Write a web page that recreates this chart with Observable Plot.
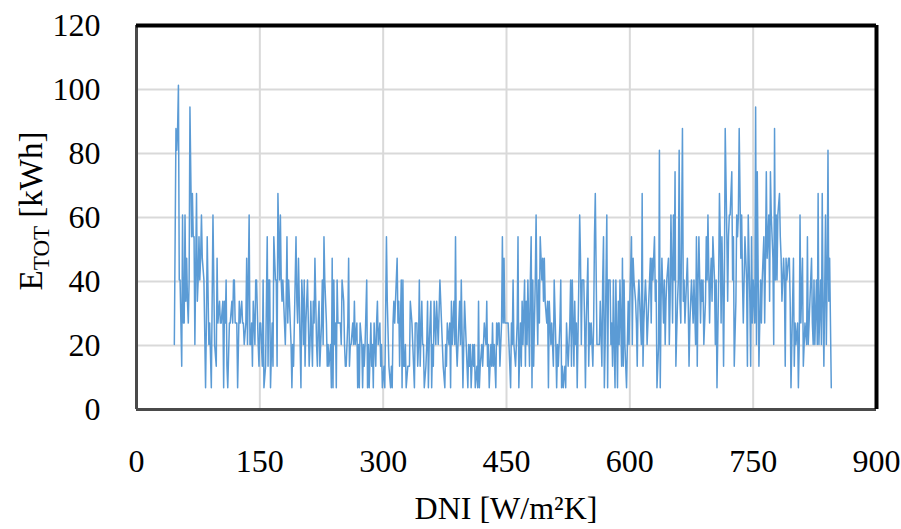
<!DOCTYPE html>
<html><head><meta charset="utf-8">
<script src="https://cdn.jsdelivr.net/npm/d3@7"></script>
<script src="https://cdn.jsdelivr.net/npm/@observablehq/plot@0.6"></script>
<style>
html,body{margin:0;padding:0;background:#fff;}
#chart{width:901px;height:529px;overflow:hidden;}
</style></head><body><div id="chart"></div>
<script>
// DNI values (x)
const dni = [
46,48,49,50,51,52,53,55,56,57,
58,59,60,61,62,63,64,65,67,68,
69,70,71,73,74,75,76,77,78,79,
80,82,84,85,86,88,89,91,93,95,
97,98,99,101,102,103,105,106,107,108,
109,110,111,113,114,116,117,118,119,120,
122,123,125,126,128,129,130,131,133,134,
135,137,138,139,140,141,142,144,145,146,
148,149,150,151,152,153,154,155,157,159,
160,161,162,163,165,166,167,169,170,171,
172,174,175,
176,177,178,180,181,182,183,184,185,187,
188,189,190,191,193,194,195,196,197,199,
200,201,202,203,204,205,206,208,209,210,
211,212,214,215,216,217,219,220,221,222,
223,225,226,227,228,229,231,232,233,234,
236,237,238,239,240,241,242,243,244,245,
247,248,249,250,252,253,254,255,257,258,
259,260,261,263,264,265,266,268,269,270,
271,272,274,275,276,277,278,280,281,282,
283,285,286,287,288,289,291,292,293,294,
296,297,298,299,301,302,304,305,
307,309,310,311,312,313,314,315,317,318,
319,320,322,323,324,325,326,327,328,330,
331,332,333,335,336,337,338,339,341,342,
343,344,345,347,348,349,350,352,353,354,
355,356,358,359,360,361,362,364,365,366,
367,369,370,371,372,373,375,376,377,378,
380,381,382,383,384,386,387,388,389,390,
392,393,394,395,397,398,399,400,401,403,
404,405,406,407,409,410,411,412,414,415,
416,417,418,420,421,422,423,425,426,427,
428,429,431,432,433,434,435,437,438,439,
440,
441,442,444,445,446,447,448,450,451,452,
453,455,456,457,458,459,461,462,463,464,
465,467,468,469,470,472,473,474,475,476,
478,479,480,481,482,483,485,486,487,488,
489,490,491,493,494,495,496,497,499,500,
501,502,504,505,506,507,508,510,511,512,
513,515,516,517,518,519,521,522,523,524,
525,527,528,529,530,532,533,534,535,536,
538,539,540,541,542,544,545,546,547,549,
550,551,552,553,555,556,557,558,560,561,
562,563,564,566,567,568,569,570,572,573,
574,576,
577,578,579,580,581,582,583,585,586,587,
588,590,591,592,593,594,596,597,598,599,
600,602,603,604,605,607,608,609,610,611,
613,614,615,616,617,619,620,621,622,624,
625,626,627,628,630,631,632,633,635,636,
637,638,639,641,642,643,644,645,647,648,
649,650,652,653,654,655,656,658,659,660,
661,662,664,665,666,667,669,670,671,672,
673,675,676,677,678,680,681,682,683,684,
686,687,688,689,690,692,693,694,695,697,
698,699,700,701,703,704,705,706,708,709,
710,
711,712,713,714,715,716,718,719,720,721,
722,724,725,726,727,729,730,731,732,733,
735,736,737,738,740,741,742,743,744,746,
747,748,749,750,752,753,754,755,757,758,
759,760,761,763,764,765,766,767,769,770,
771,772,774,775,776,777,778,779,780,782,
783,784,785,787,788,789,790,791,793,794,
795,796,797,799,800,801,802,804,805,806,
807,808,810,811,812,813,815,816,817,818,
819,821,822,823,824,825,827,828,829,830,
832,833,834,835,836,838,839,840,841,842,
843,845
];
// E_TOT values (y), kWh
const etot = [
20.3,87.8,81,87.8,101.3,40.5,40.5,13.5,60.8,27,
27,60.8,33.8,47.3,33.8,27,40.5,94.5,54,67.5,
54,54,20.3,67.5,33.8,40.5,54,40.5,47.3,60.8,
47.3,40.5,6.8,27,54,20.3,27,6.8,60.8,20.3,
13.5,47.3,27,33.8,27,27,33.8,6.8,33.8,27,
40.5,13.5,6.8,27,27,33.8,27,40.5,40.5,27,
27,6.8,33.8,27,33.8,27,27,20.3,27,47.3,
20.3,60.8,20.3,20.3,27,13.5,33.8,20.3,40.5,40.5,
20.3,13.5,27,27,20.3,13.5,40.5,6.8,13.5,54,
13.5,40.5,40.5,6.8,27,13.5,54,40.5,40.5,13.5,
67.5,40.5,60.8,
40.5,33.8,40.5,27,20.3,33.8,54,27,40.5,27,
20.3,6.8,20.3,13.5,40.5,54,33.8,27,47.3,20.3,
6.8,40.5,33.8,20.3,40.5,13.5,27,40.5,27,13.5,
20.3,33.8,13.5,33.8,27,47.3,20.3,13.5,27,33.8,
13.5,27,40.5,20.3,54,40.5,27,13.5,20.3,13.5,
20.3,6.8,47.3,6.8,40.5,20.3,27,6.8,40.5,27,
27,27,20.3,40.5,33.8,20.3,13.5,13.5,27,47.3,
13.5,20.3,20.3,27,20.3,33.8,20.3,27,6.8,20.3,
6.8,27,20.3,6.8,20.3,13.5,20.3,40.5,6.8,20.3,
6.8,27,13.5,20.3,6.8,27,13.5,27,33.8,20.3,
27,13.5,20.3,6.8,13.5,6.8,54,33.8,
13.5,6.8,13.5,6.8,27,33.8,27,33.8,47.3,27,
33.8,13.5,40.5,6.8,40.5,13.5,13.5,20.3,6.8,13.5,
13.5,13.5,33.8,27,20.3,13.5,6.8,27,27,13.5,
20.3,40.5,13.5,33.8,20.3,20.3,6.8,13.5,20.3,33.8,
6.8,20.3,33.8,6.8,20.3,13.5,33.8,20.3,33.8,27,
20.3,40.5,33.8,27,20.3,13.5,6.8,20.3,13.5,27,
20.3,27,6.8,33.8,20.3,33.8,20.3,54,20.3,13.5,
27,33.8,20.3,40.5,6.8,20.3,33.8,27,20.3,6.8,
20.3,13.5,20.3,6.8,20.3,13.5,20.3,6.8,13.5,6.8,
33.8,6.8,13.5,20.3,13.5,20.3,27,20.3,33.8,13.5,
20.3,6.8,20.3,13.5,27,13.5,20.3,6.8,27,20.3,
27,
27,13.5,27,54,27,47.3,27,27,27,27,
20.3,6.8,27,20.3,40.5,20.3,13.5,20.3,27,54,
6.8,27,13.5,33.8,20.3,40.5,13.5,33.8,20.3,40.5,
13.5,40.5,54,6.8,40.5,13.5,40.5,60.8,33.8,20.3,
40.5,27,54,40.5,47.3,33.8,47.3,33.8,27,33.8,
6.8,33.8,20.3,27,20.3,13.5,40.5,20.3,6.8,20.3,
13.5,27,40.5,6.8,13.5,6.8,13.5,6.8,27,20.3,
13.5,27,40.5,13.5,40.5,13.5,33.8,20.3,27,6.8,
40.5,60.8,47.3,20.3,40.5,40.5,27,6.8,27,47.3,
13.5,27,20.3,27,13.5,27,54,67.5,20.3,20.3,
20.3,20.3,33.8,13.5,40.5,54,6.8,20.3,60.8,6.8,
40.5,40.5,
20.3,27,13.5,40.5,20.3,6.8,40.5,6.8,33.8,20.3,
40.5,13.5,47.3,13.5,40.5,20.3,6.8,20.3,33.8,20.3,
33.8,54,20.3,47.3,40.5,33.8,27,13.5,33.8,40.5,
27,20.3,67.5,13.5,27,40.5,33.8,20.3,27,40.5,
47.3,27,47.3,40.5,54,33.8,40.5,6.8,20.3,81,
6.8,33.8,47.3,27,40.5,20.3,33.8,40.5,47.3,20.3,
33.8,60.8,27,60.8,40.5,74.3,13.5,33.8,40.5,81,
33.8,27,87.8,33.8,40.5,27,40.5,47.3,33.8,13.5,
27,40.5,33.8,27,40.5,20.3,54,13.5,40.5,54,
27,40.5,33.8,40.5,20.3,33.8,54,40.5,60.8,27,
40.5,47.3,33.8,54,40.5,20.3,40.5,6.8,40.5,67.5,
54,
27,54,40.5,13.5,40.5,87.8,54,33.8,54,60.8,
60.8,74.3,40.5,54,13.5,33.8,60.8,54,60.8,87.8,
47.3,60.8,40.5,27,54,47.3,40.5,13.5,60.8,33.8,
13.5,54,27,40.5,27,94.5,20.3,74.3,13.5,27,
40.5,27,40.5,54,27,47.3,74.3,47.3,60.8,33.8,
74.3,60.8,47.3,20.3,87.8,40.5,60.8,40.5,60.8,67.5,
54,47.3,33.8,47.3,40.5,13.5,47.3,40.5,47.3,47.3,
33.8,6.8,20.3,47.3,13.5,27,20.3,27,6.8,20.3,
60.8,27,47.3,13.5,20.3,27,20.3,54,20.3,27,
33.8,47.3,27,20.3,40.5,20.3,40.5,20.3,67.5,20.3,
40.5,20.3,67.5,33.8,13.5,60.8,20.3,40.5,81,33.8,
47.3,6.8
];
const xTicks = [0, 150, 300, 450, 600, 750, 900];
const yTicks = [0, 20, 40, 60, 80, 100, 120];
const xGrid = [150, 300, 450, 600, 750];
const yGrid = [20, 40, 60, 80, 100];
const xTitle = "DNI [W/m²K]";
const yTitleMain = "E", yTitleSub = "TOT", yTitleUnit = " [kWh]";

const n = Math.min(dni.length, etot.length);
const data = d3.range(n).map(i => ({dni: dni[i], e: etot[i]}));

const W = 901, H = 529, mL = 136, mR = 25, mT = 25, mB = 120;
const FONT = "'Liberation Serif', 'DejaVu Serif', serif";

const svg = Plot.plot({
  width: W, height: H,
  marginLeft: mL, marginRight: mR, marginTop: mT, marginBottom: mB,
  style: {fontFamily: FONT, fontSize: "32px", color: "#000", background: "#fff", overflow: "visible"},
  x: {domain: [0, 900], ticks: xTicks, tickSize: 0, tickPadding: 40, label: null, tickFormat: d => String(d)},
  y: {domain: [0, 120], ticks: yTicks, tickSize: 0, tickPadding: 36, label: null, tickFormat: d => String(d)},
  marks: [
    Plot.ruleX(xGrid, {stroke: "#d9d9d9", strokeWidth: 2}),
    Plot.ruleY(yGrid, {stroke: "#d9d9d9", strokeWidth: 2}),
    Plot.line(data, {x: "dni", y: "e", stroke: "#5b9bd5", strokeWidth: 1.5}),
    Plot.ruleY([0], {stroke: "#4a4a4a", strokeWidth: 3}),
    Plot.ruleX([0], {stroke: "#4a4a4a", strokeWidth: 3}),
    Plot.ruleY([120], {stroke: "#000", strokeWidth: 4}),
    Plot.ruleX([900], {stroke: "#000", strokeWidth: 4})
  ]
});
document.getElementById("chart").append(svg);

const root = d3.select(svg);
// X axis title
root.append("text")
  .attr("x", (mL + (W - mR)) / 2).attr("y", 519)
  .attr("text-anchor", "middle")
  .style("font-family", FONT).style("font-size", "32px").attr("fill", "#000")
  .text(xTitle);
// Y axis title with subscript
const yt = root.append("text")
  .attr("transform", "translate(42," + (mT + (H - mB - mT) / 2 - 6) + ") rotate(-90)")
  .attr("text-anchor", "middle")
  .style("font-family", FONT).style("font-size", "33px").attr("fill", "#000");
yt.append("tspan").text(yTitleMain);
yt.append("tspan").attr("dy", 7).style("font-size", "23px").text(yTitleSub);
yt.append("tspan").attr("dy", -7).text(yTitleUnit);
</script></body></html>
